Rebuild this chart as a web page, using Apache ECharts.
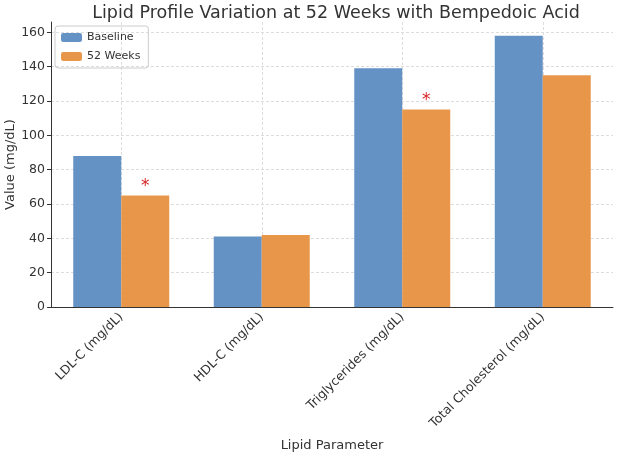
<!DOCTYPE html>
<html>
<head>
<meta charset="utf-8">
<script src="https://cdn.jsdelivr.net/npm/echarts@6/dist/echarts.min.js"></script>
<style>
  html, body {margin: 0; padding: 0; background: #fff;}
  #chart {width: 618px; height: 458px;}
</style>
</head>
<body>
<div id="chart"></div>
<script>
const categories = ['LDL-C (mg/dL)', 'HDL-C (mg/dL)', 'Triglycerides (mg/dL)', 'Total Cholesterol (mg/dL)'];
const baseline = [88, 41, 139, 158];
const week52 = [65, 42, 115, 135];
const significant = [true, false, true, false];
const yTicks = [0, 20, 40, 60, 80, 100, 120, 140, 160];

const colors = {base: '#6592c4', week: '#e8974a'};
const font = 'DejaVu Sans';

const chart = echarts.init(document.getElementById('chart'));
chart.setOption({
  animation: false,
  textStyle: {fontFamily: font},
  title: {
    text: 'Lipid Profile Variation at 52 Weeks with Bempedoic Acid',
    left: 331, top: -1, textAlign: 'center',
    textStyle: {fontFamily: font, fontSize: 17.5, fontWeight: 'normal', color: '#333'}
  },
  legend: {
    orient: 'vertical', left: 55, top: 26,
    itemWidth: 21, itemHeight: 9, itemGap: 8,
    padding: [6, 8, 6, 6],
    borderColor: '#ccc', borderWidth: 1, borderRadius: 3,
    textStyle: {fontFamily: font, fontSize: 11, color: '#333'},
    data: ['Baseline', '52 Weeks']
  },
  grid: {left: 51, right: 5, top: 22, bottom: 151, outerBoundsMode: 'none'},
  xAxis: [{
    type: 'category', data: categories,
    axisLine: {lineStyle: {color: '#333'}},
    axisTick: {alignWithLabel: true, length: 4, lineStyle: {color: '#333'}},
    axisLabel: {rotate: 45, fontSize: 12.5, color: '#333', margin: 8, interval: 0},
    splitLine: {show: false},
    name: 'Lipid Parameter', nameLocation: 'middle', nameGap: 132, nameMoveOverlap: false,
    nameTextStyle: {fontSize: 13, color: '#333'}
  }, {
    type: 'value', min: -0.5, max: 3.5, splitNumber: 4, position: 'bottom',
    axisLine: {show: false}, axisTick: {show: false}, axisLabel: {show: false},
    splitLine: {show: true, showMinLine: false, showMaxLine: false, lineStyle: {color: '#ddd', type: [3, 2]}}
  }],
  yAxis: {
    type: 'value', min: 0, max: 166, interval: 20,
    axisLine: {show: true, onZero: false, lineStyle: {color: '#333'}},
    axisTick: {show: true, length: 4, lineStyle: {color: '#333'}},
    axisLabel: {
      fontSize: 12.5, color: '#333', margin: 6, showMaxLabel: false,
      formatter: v => yTicks.includes(v) ? String(v) : ''
    },
    splitLine: {show: true, showMaxLine: false, lineStyle: {color: '#ddd', type: [3, 2]}},
    name: 'Value (mg/dL)', nameLocation: 'middle', nameGap: 34, nameRotate: 90, nameMoveOverlap: false,
    nameTextStyle: {fontSize: 13, color: '#333'}
  },
  series: [
    {
      name: 'Baseline', type: 'bar', data: baseline,
      barWidth: 48, barGap: '0%',
      itemStyle: {color: colors.base}
    },
    {
      name: '52 Weeks', type: 'bar', data: week52.map((v, i) => ({
        value: v,
        label: {
          show: significant[i], formatter: '*', position: 'top', distance: 0,
          color: '#d62728', fontSize: 17
        }
      })),
      barWidth: 48, barGap: '0%',
      itemStyle: {color: colors.week}
    }
  ]
});
</script>
</body>
</html>
